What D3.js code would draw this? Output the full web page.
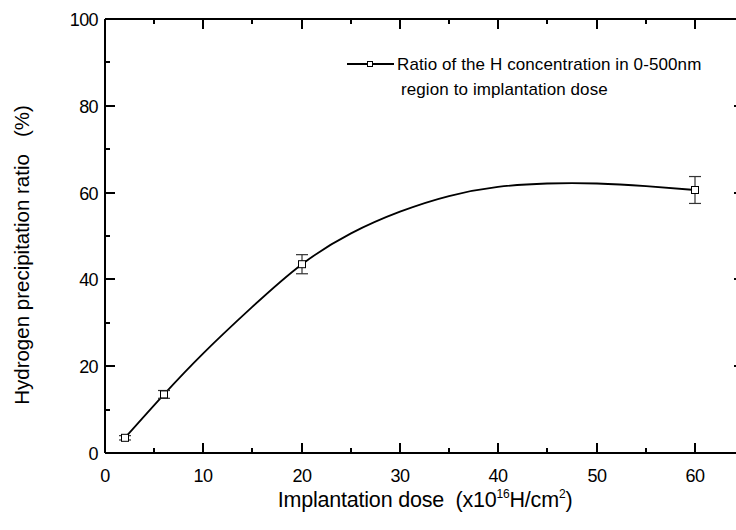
<!DOCTYPE html>
<html lang="en">
<head>
<meta charset="UTF-8">
<title>Hydrogen precipitation ratio</title>
<script src="https://d3js.org/d3.v7.min.js"></script>
<style>
    body { margin: 0; background: #fff; overflow: hidden; }
    svg { display: block; font-family: 'Liberation Sans', Arial, sans-serif; }
    text { white-space: pre; }
    .tick-label { font-size: 18px; fill: #000; letter-spacing: -0.6px; }
</style>
</head>
<body>
<svg width="736" height="530"></svg>
<script>
    // measured points
    const dose = [2, 6, 20, 60];
    const ratio = [3.5, 13.5, 43.5, 60.6];
    const err = [0.5, 0.9, 2.2, 3.1];

    // smooth fitted curve
    const fitX = [2, 6, 10, 15, 20, 25, 30, 35, 40, 45, 50, 55, 60];
    const fitY = [3.5, 13.5, 22.9, 33.6, 43.5, 50.6, 55.6, 59.2, 61.3, 62.1, 62.1, 61.5, 60.6];

    const xTicks = [0, 10, 20, 30, 40, 50, 60];
    const yTicks = [0, 20, 40, 60, 80, 100];
    const xMinor = [5, 15, 25, 35, 45, 55, 65];
    const yMinor = [10, 30, 50, 70, 90];

    const legendText = ["Ratio of the H concentration in 0-500nm", "region to implantation dose"];

    const svg = d3.select("svg");
    const x = d3.scaleLinear().domain([0, 65]).range([105, 744]).interpolate(d3.interpolateRound);
    const y = d3.scaleLinear().domain([0, 100]).range([453, 19]);
    const yr = v => Math.round(y(v));

    // axes on all four sides, ticks pointing inward
    function addAxis(axis, tx, ty) {
        const g = svg.append("g").attr("transform", `translate(${tx},${ty})`)
            .call(axis.offset(0).tickSizeOuter(0));
        g.selectAll("path, line")
            .attr("stroke", "#000")
            .attr("stroke-width", 2)
            .attr("shape-rendering", "crispEdges");
        g.selectAll("text").remove();
        return g;
    }
    const yRound = d3.scaleLinear().domain([0, 100]).range([453, 19]).interpolate(d3.interpolateRound);
    addAxis(d3.axisBottom(x).tickValues(xTicks).tickSizeInner(-10), 0, yr(0));
    addAxis(d3.axisBottom(x).tickValues(xMinor).tickSizeInner(-5), 0, yr(0));
    addAxis(d3.axisTop(x).tickValues(xTicks).tickSizeInner(-10), 0, yr(100));
    addAxis(d3.axisTop(x).tickValues(xMinor).tickSizeInner(-5), 0, yr(100));
    addAxis(d3.axisLeft(yRound).tickValues(yTicks).tickSizeInner(-10), x(0), 0);
    addAxis(d3.axisLeft(yRound).tickValues(yMinor).tickSizeInner(-5), x(0), 0);
    addAxis(d3.axisRight(yRound).tickValues(yTicks).tickSizeInner(-10), x(65), 0);
    addAxis(d3.axisRight(yRound).tickValues(yMinor).tickSizeInner(-5), x(65), 0);

    svg.selectAll(".xl").data(xTicks).join("text")
        .attr("class", "tick-label xl")
        .attr("x", d => x(d)).attr("y", 482)
        .attr("text-anchor", "middle")
        .text(d => d);

    svg.selectAll(".yl").data(yTicks).join("text")
        .attr("class", "tick-label yl")
        .attr("x", 98).attr("y", d => y(d) + 7)
        .attr("text-anchor", "end")
        .text(d => d);

    // axis titles
    const xt = svg.append("text")
        .attr("x", 425).attr("y", 507)
        .attr("text-anchor", "middle")
        .attr("font-size", 21.5)
        .attr("letter-spacing", -0.2);
    xt.append("tspan").text("Implantation dose  (x10");
    xt.append("tspan").attr("font-size", 12).attr("dy", -9).text("16");
    xt.append("tspan").attr("dy", 9).text("H/cm");
    xt.append("tspan").attr("font-size", 12).attr("dy", -9).text("2");
    xt.append("tspan").attr("dy", 9).text(")");

    svg.append("text")
        .attr("transform", "translate(29,255) rotate(-90)")
        .attr("text-anchor", "middle")
        .attr("font-size", 20.5)
        .attr("letter-spacing", 0)
        .text("Hydrogen precipitation ratio   (%)");

    // fitted curve
    const line = d3.line()
        .x(d => x(d[0])).y(d => y(d[1]))
        .curve(d3.curveNatural);
    svg.append("path")
        .datum(fitX.map((v, i) => [v, fitY[i]]))
        .attr("d", line)
        .attr("fill", "none")
        .attr("stroke", "#000")
        .attr("stroke-width", 1.8);

    // error bars and markers
    const pts = svg.selectAll(".pt").data(dose.map((d, i) => ({ d, r: ratio[i], e: err[i] })))
        .join("g").attr("class", "pt");
    pts.append("line")
        .attr("x1", p => x(p.d)).attr("x2", p => x(p.d))
        .attr("y1", p => y(p.r + p.e)).attr("y2", p => y(p.r - p.e))
        .attr("stroke", "#333").attr("stroke-width", 1.2);
    [1, -1].forEach(s => {
        pts.append("line")
            .attr("x1", p => x(p.d) - 6).attr("x2", p => x(p.d) + 6)
            .attr("y1", p => y(p.r + s * p.e)).attr("y2", p => y(p.r + s * p.e))
            .attr("stroke", "#333").attr("stroke-width", 1.2);
    });
    pts.append("rect")
        .attr("x", p => x(p.d) - 3.5).attr("y", p => y(p.r) - 3.5)
        .attr("width", 7).attr("height", 7)
        .attr("fill", "#fff").attr("stroke", "#000").attr("stroke-width", 1);

    // legend
    const lg = svg.append("g");
    lg.append("line").attr("x1", 347).attr("x2", 394).attr("y1", 64).attr("y2", 64)
        .attr("stroke", "#000").attr("stroke-width", 1.8);
    lg.append("rect").attr("x", 367.5).attr("y", 61.5).attr("width", 5).attr("height", 5)
        .attr("fill", "#fff").attr("stroke", "#000").attr("stroke-width", 1);
    lg.selectAll("text").data(legendText).join("text")
        .attr("x", (d, i) => i === 0 ? 397 : 401)
        .attr("y", (d, i) => 70 + i * 25)
        .attr("font-size", 17)
        .attr("letter-spacing", 0.1)
        .text(d => d);
</script>
</body>
</html>
